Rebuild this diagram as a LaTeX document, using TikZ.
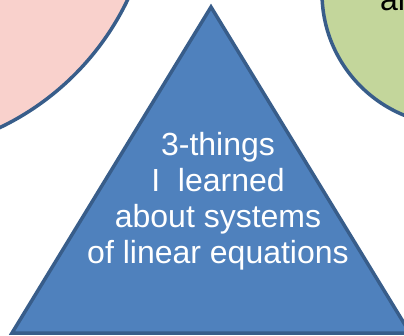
\documentclass[tikz,border=0pt]{standalone}
\usepackage{fontspec}
\setmainfont{Liberation Sans}
\definecolor{pinkfill}{HTML}{F9D1CC}
\definecolor{greenfill}{HTML}{C3D69B}
\definecolor{trifill}{HTML}{4F81BD}
\definecolor{edgeblue}{HTML}{385D8A}
\begin{document}
\begin{tikzpicture}[x=1pt,y=-1pt,
  shapeline/.style={draw=edgeblue,line width=3.5pt,line join=miter},
  tritext/.style={text=white,inner sep=0pt,anchor=base,font=\fontsize{32}{36}\selectfont},
  circtext/.style={text=black,inner sep=0pt,anchor=base west,font=\fontsize{32}{36}\selectfont}]
\useasboundingbox (0,0) rectangle (404,335);
\begin{scope}
\clip (0,0) rectangle (404,335);
\fill[pinkfill,shapeline] (-117,-117) circle[radius=271];
\fill[greenfill,shapeline] (454,-7) circle[radius=132];
\node[circtext] (ctext) at (380,10) {ar};
\coordinate (apex) at (211,7);
\coordinate (bl) at (12,333);
\coordinate (br) at (410,333);
\fill[trifill,shapeline] (apex) -- (br) -- (bl) -- cycle;
\node[tritext] (l1) at (218,155) {3-things};
\node[tritext] (l2) at (218,191) {I\ \ learned};
\node[tritext] (l3) at (218,227) {about systems};
\node[tritext] (l4) at (218,263) {of linear equations};
\end{scope}
\end{tikzpicture}
\end{document}
